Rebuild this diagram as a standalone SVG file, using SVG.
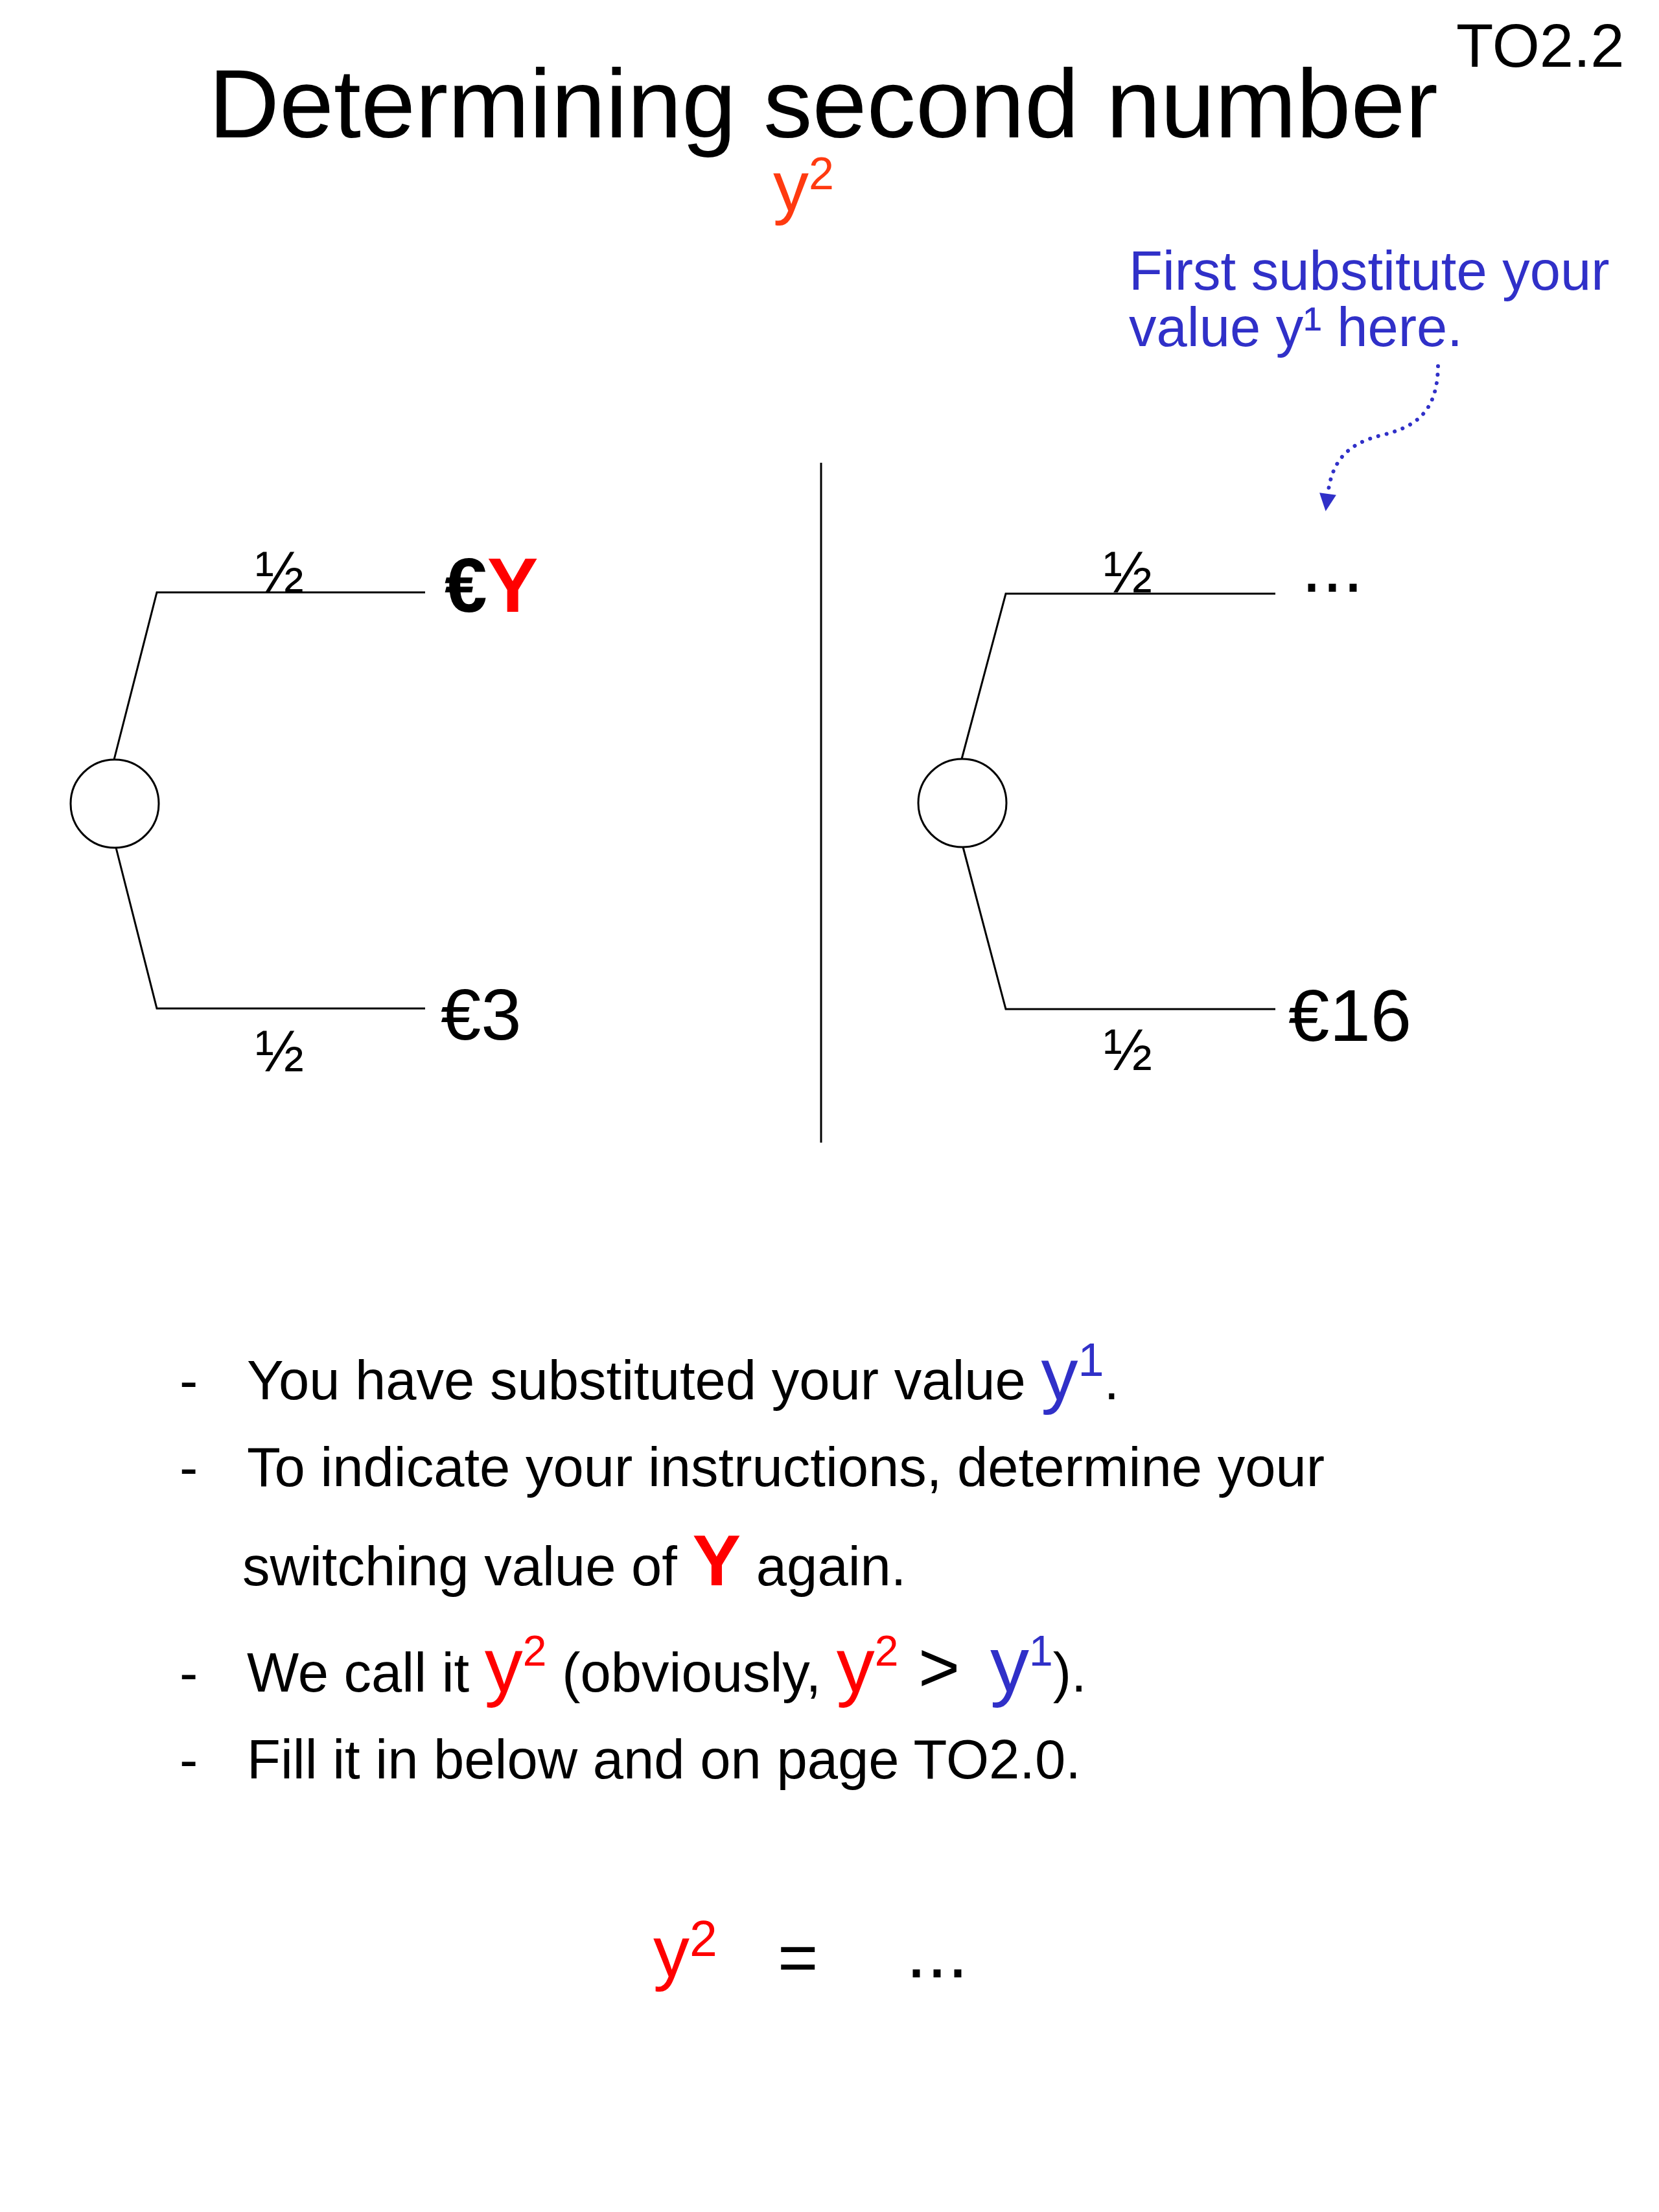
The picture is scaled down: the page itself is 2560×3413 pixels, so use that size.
<svg xmlns="http://www.w3.org/2000/svg" width="2560" height="3413" viewBox="0 0 2560 3413">
<style>
text{font-family:"Liberation Sans",Arial,Helvetica,sans-serif;fill:#000}
.ln{stroke:#000;stroke-width:3;fill:none}
.blue{fill:#3030c8}
.red{fill:#ff0000}
.ored{fill:#ff3a10}
.frac{font-size:90px}
.body{font-size:85px}
</style>
<defs>
<marker id="ah" markerUnits="userSpaceOnUse" viewBox="0 -15 30 30" markerWidth="30" markerHeight="30" refX="0" refY="0" orient="auto" overflow="visible">
<path d="M0,-13 L27,0 L0,13 Z" fill="#3030c8"/>
</marker>
</defs>
<rect width="2560" height="3413" fill="#fff"/>
<g id="title">
<text x="322" y="212" font-size="151">Determining second number</text>
<text x="1193" y="325" font-size="110" class="ored">y<tspan font-size="70" dy="-33">2</tspan></text>
</g>
<g id="page-label"><text x="2247" y="103" font-size="94">TO2.2</text></g>
<g id="annotation">
<text x="1742" y="447" font-size="85" class="blue">First substitute your</text>
<text x="1742" y="534" font-size="85" class="blue">value y¹ here.</text>
</g>
<g id="divider"><line class="ln" x1="1267" y1="714" x2="1267" y2="1763"/></g>
<g id="left-chance"><circle cx="177" cy="1240" r="68" fill="#fff" stroke="#000" stroke-width="3"/></g>
<g id="left-top-outcome"><text x="686" y="944" font-size="118" font-weight="bold">€<tspan class="red">Y</tspan></text></g>
<g id="left-bottom-outcome"><text x="680" y="1604" font-size="112">€3</text></g>
<g id="right-chance"><circle cx="1485" cy="1239" r="68" fill="#fff" stroke="#000" stroke-width="3"/></g>
<g id="right-top-outcome"><text x="2008" y="913" font-size="115">...</text></g>
<g id="right-bottom-outcome"><text x="1988" y="1606" font-size="114">€16</text></g>
<g id="connectors">
<polyline class="ln" points="176,1172 242,914 656,914"/>
<polyline class="ln" points="179,1308 242,1556 656,1556"/>
<polyline class="ln" points="1484,1171 1552,916 1968,916"/>
<polyline class="ln" points="1486,1307 1552,1557 1968,1557"/>
<path d="M2219,565 C2218,640 2180,660 2130,672 C2075,686 2055,715 2049,762" fill="none" stroke="#3030c8" stroke-width="6" stroke-linecap="round" stroke-dasharray="0.1 13" marker-end="url(#ah)"/>
</g>
<g id="branch-labels">
<text x="394" y="914" class="frac">½</text>
<text x="394" y="1653" class="frac">½</text>
<text x="1703" y="914" class="frac">½</text>
<text x="1703" y="1651" class="frac">½</text>
</g>
<g id="bullets" class="body">
<text x="277" y="2159" font-size="85">-</text>
<text x="381" y="2159" font-size="85">You have substituted your value <tspan class="blue" font-size="114">y</tspan><tspan class="blue" font-size="72" dy="-36">1</tspan><tspan dy="36">.</tspan></text>
<text x="277" y="2293" font-size="85">-</text>
<text x="381" y="2293" font-size="85">To indicate your instructions, determine your</text>
<text x="374" y="2446" font-size="85">switching value of <tspan class="red" font-size="112" font-weight="bold">Y</tspan> again.</text>
<text x="277" y="2610" font-size="85">-</text>
<text x="381" y="2610" font-size="85">We call it <tspan class="red" font-size="118">y</tspan><tspan class="red" font-size="66" dy="-40">2</tspan><tspan dy="40"> (obviously, </tspan><tspan class="red" font-size="118">y</tspan><tspan class="red" font-size="66" dy="-40">2</tspan><tspan dy="40" font-size="110"> &gt; </tspan><tspan class="blue" font-size="120" x="1528">y</tspan><tspan class="blue" font-size="66" dy="-40">1</tspan><tspan dy="40">).</tspan></text>
<text x="277" y="2744" font-size="85">-</text>
<text x="381" y="2744" font-size="85">Fill it in below and on page TO2.0.</text>
</g>
<g id="equation">
<text x="1008" y="3050" font-size="112" class="red">y<tspan font-size="77" dy="-32">2</tspan></text>
<text x="1200" y="3057" font-size="107">=</text>
<text x="1398" y="3051" font-size="115">...</text>
</g>
</svg>
